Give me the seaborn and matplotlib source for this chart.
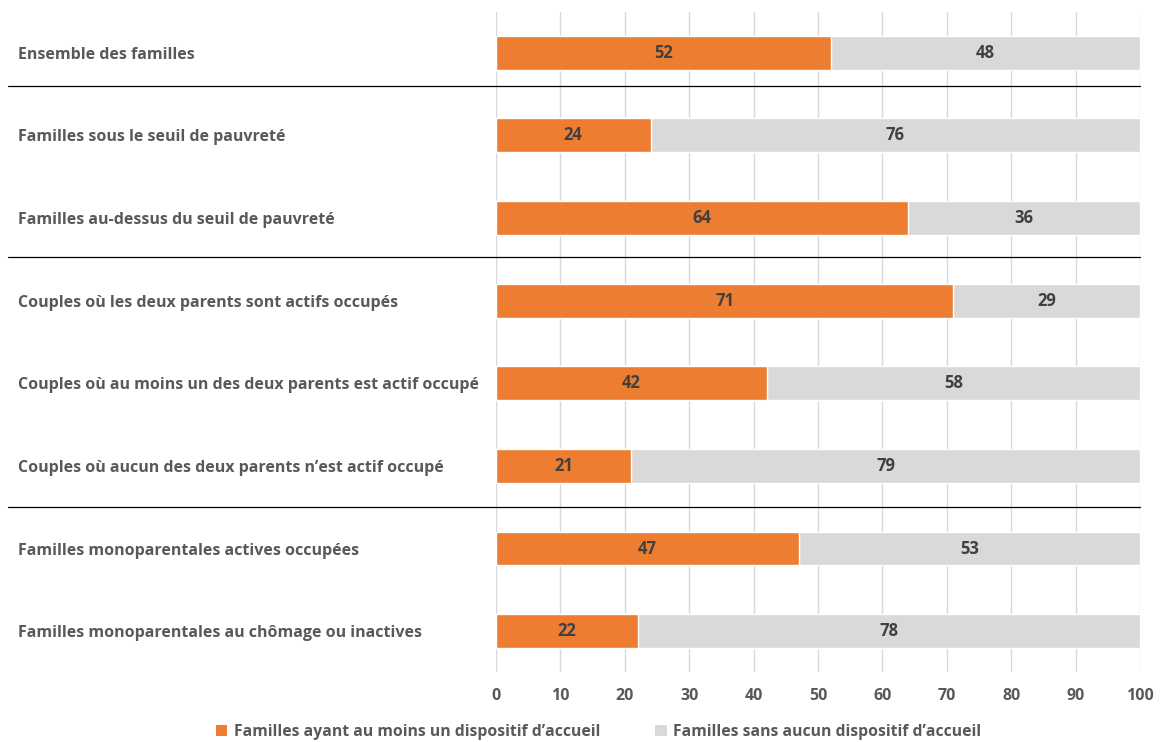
import matplotlib
matplotlib.use("Agg")
import matplotlib.pyplot as plt
from matplotlib.patches import Patch
import seaborn as sns
import pandas as pd

# DATA
categories = [
    "Ensemble des familles",
    "Familles sous le seuil de pauvreté",
    "Familles au-dessus du seuil de pauvreté",
    "Couples où les deux parents sont actifs occupés",
    "Couples où au moins un des deux parents est actif occupé",
    "Couples où aucun des deux parents n’est actif occupé",
    "Familles monoparentales actives occupées",
    "Familles monoparentales au chômage ou inactives",
]
avec_accueil = [52, 24, 64, 71, 42, 21, 47, 22]
sans_accueil = [48, 76, 36, 29, 58, 79, 53, 78]
legend_labels = ["Familles ayant au moins un dispositif d’accueil",
                 "Familles sans aucun dispositif d’accueil"]
xticks = list(range(0, 101, 10))
separators = [0.4, 2.47, 5.5]

orange = "#ED7D31"
grey = "#D9D9D9"
txt = "#595959"

sns.set_theme(style="white")
plt.rcParams['font.family'] = ['Open Sans', 'DejaVu Sans']
plt.rcParams['font.weight'] = 'bold'

df = pd.DataFrame({"cat": categories, "avec": avec_accueil, "sans": sans_accueil})
df["total"] = df["avec"] + df["sans"]

fig = plt.figure(figsize=(11.62, 7.42), dpi=100)
ax = fig.add_axes([0.4269, 0.0937, 0.5542, 0.8908])

# grey first (full length), orange on top
sns.barplot(data=df, x="total", y="cat", color=grey, width=0.41, ax=ax,
            saturation=1, orient="h", zorder=2)
sns.barplot(data=df, x="avec", y="cat", color=orange, width=0.41, ax=ax,
            saturation=1, orient="h", zorder=3)

# value labels
c_grey = ax.containers[0]
c_or = ax.containers[1]
ax.bar_label(c_or, labels=[str(v) for v in avec_accueil], label_type="center",
             color="#404040", fontsize=12, fontweight="bold")
for rect, v, a in zip(c_grey, sans_accueil, avec_accueil):
    y = rect.get_y() + rect.get_height() / 2
    ax.text(a + v / 2, y, str(v), ha="center", va="center",
            color="#404040", fontsize=12, fontweight="bold", zorder=4)

ax.set_xlim(0, 100)
ax.set_xticks(xticks)
ax.set_xticklabels([str(t) for t in xticks], color=txt, fontsize=11.5, fontweight="bold")
ax.xaxis.grid(True, color=grey, lw=1, zorder=0)
ax.set_axisbelow(True)
for s in ax.spines.values():
    s.set_visible(False)
ax.tick_params(axis="x", length=0, pad=11)
ax.tick_params(axis="y", length=0, pad=344)
ax.set_yticklabels(categories, ha="left", color=txt, fontsize=11.5, fontweight="bold")
ax.set_xlabel("")
ax.set_ylabel("")

# separator lines between groups
for y in separators:
    ax.axhline(y, xmin=-0.758, xmax=1.0, color="black", lw=0.9, clip_on=False, zorder=5)

handles = [Patch(facecolor=orange, edgecolor="none"),
           Patch(facecolor=grey, edgecolor="none")]
leg = fig.legend(handles, legend_labels, loc="lower center", bbox_to_anchor=(0.515, -0.016),
                 ncol=2, frameon=False, handlelength=0.75, handleheight=0.75,
                 handletextpad=0.4, columnspacing=3.5,
                 prop={"size": 11.3, "weight": "bold"})
for t in leg.get_texts():
    t.set_color(txt)

fig.savefig("out.png", dpi=100)
